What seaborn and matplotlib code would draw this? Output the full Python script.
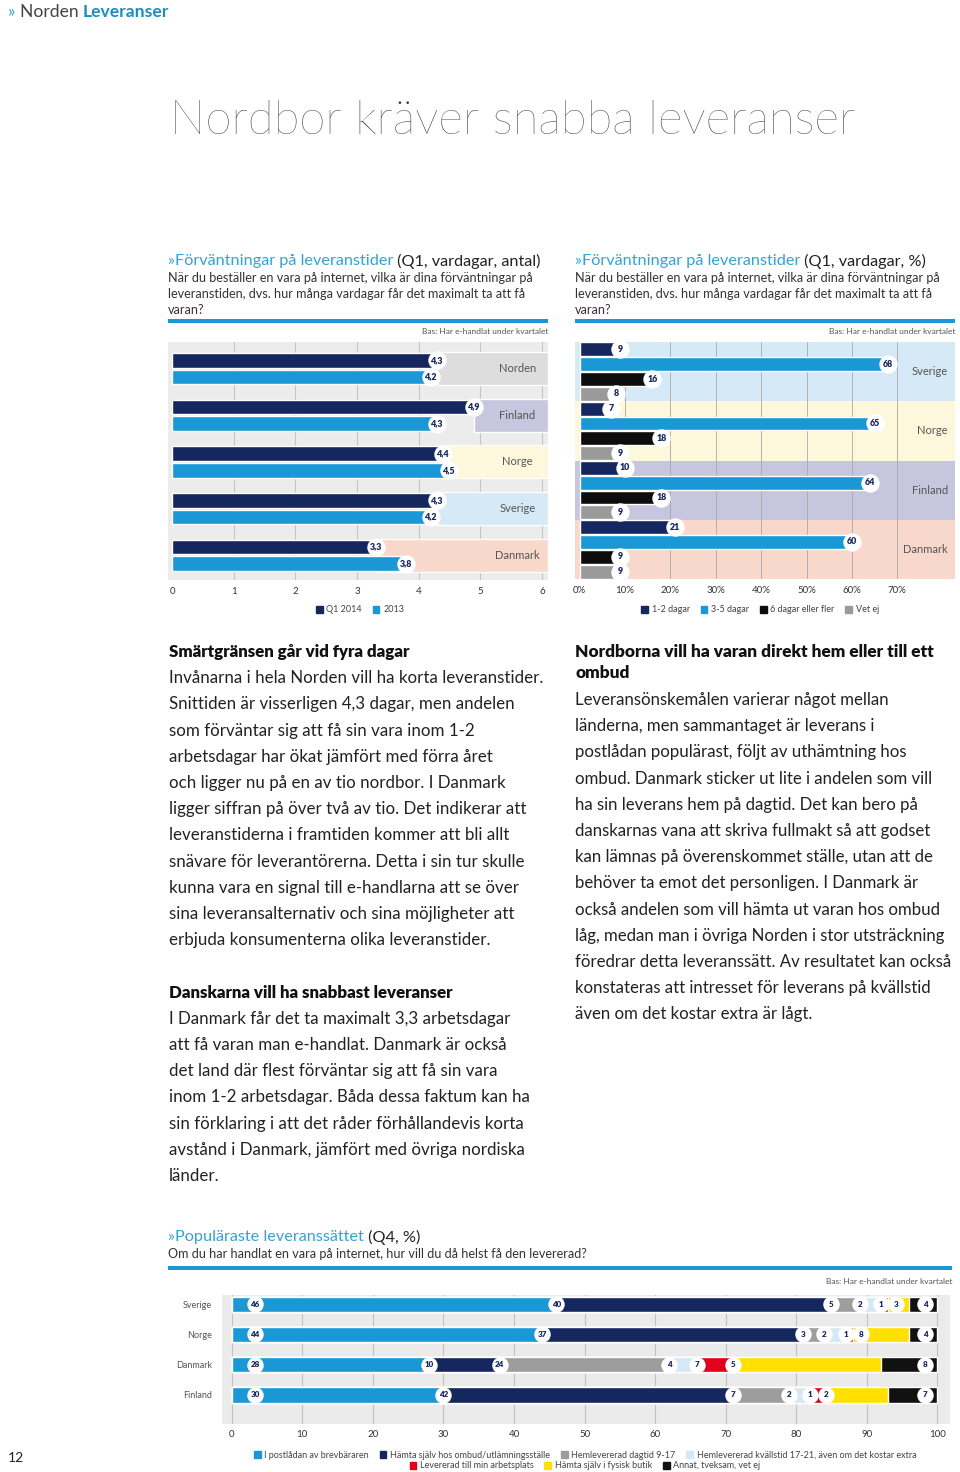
import numpy as np
import pandas as pd
import seaborn as sns
import matplotlib.pyplot as plt
from matplotlib.patches import Patch, Rectangle

# --- data -------------------------------------------------------------
lander1 = ['Norden', 'Finland', 'Norge', 'Sverige', 'Danmark']
q1_2014 = [4.3, 4.9, 4.4, 4.3, 3.3]
ar_2013 = [4.2, 4.3, 4.5, 4.2, 3.8]
serier1 = ['Q1 2014', '2013']

lander2 = ['Sverige', 'Norge', 'Finland', 'Danmark']
dagar_1_2 = [9, 7, 10, 21]
dagar_3_5 = [68, 65, 64, 60]
dagar_6 = [16, 18, 18, 9]
vet_ej = [8, 9, 9, 9]
serier2 = ['1-2 dagar', '3-5 dagar', '6 dagar eller fler', 'Vet ej']

lander3 = ['Sverige', 'Norge', 'Danmark', 'Finland']
postladan = [46, 44, 28, 30]
ombud = [39, 37, 10, 41]
dagtid = [4, 3, 24, 8]
kvallstid = [3, 3, 4, 3]
arbetsplats = [1, 1, 5, 2]
butik = [3, 8, 21, 9]
annat = [4, 4, 8, 7]
# numbers printed in the circles
etiketter3 = {
    'Sverige': [46, 40, 5, 2, 1, 3, 4],
    'Norge': [44, 37, 3, 2, 1, 8, 4],
    'Danmark': [28, 10, 24, 4, 7, 5, 8],
    'Finland': [30, 42, 7, 2, 1, 2, 7],
}
satt = ['I postlådan av brevbäraren', 'Hämta själv hos ombud/utlämningsställe',
        'Hemlevererad dagtid 9-17', 'Hemlevererad kvällstid 17-21, även om det kostar extra',
        'Levererad till min arbetsplats', 'Hämta själv i fysisk butik', 'Annat, tveksam, vet ej']

# --- style ------------------------------------------------------------
NAVY = '#15275e'
BLUE = '#1a98d5'
LBLUE = '#34a3d3'
HEAD = '#1b8dc0'
DARK = '#222222'
GREY = '#555555'
BLACK = '#0d0d0d'
band = {'Norden': '#dddddd', 'Finland': '#c6c6de', 'Norge': '#fdf7dc',
        'Sverige': '#d6e9f7', 'Danmark': '#f8d8ca'}
farger2 = [NAVY, BLUE, BLACK, '#9a9a9a']
farger3 = [BLUE, NAVY, '#9d9d9d', '#d4e8f5', '#e2001a', '#ffe000', '#111111']

sns.set_style('white')
plt.rcParams['font.family'] = ['Lato', 'DejaVu Sans']

W, H = 960, 1472
fig = plt.figure(figsize=(9.6, 14.72), dpi=100)
renderer = fig.canvas.get_renderer()


def fx(x):
    return x / W


def fy(y):
    return 1 - y / H


def box(l, t, r, b):
    return [l / W, 1 - b / H, (r - l) / W, (b - t) / H]


def rich(x, y, parts, size):
    for s, color, weight in parts:
        t = fig.text(fx(x), fy(y), s, color=color, fontsize=size, fontweight=weight,
                     ha='left', va='center')
        x += t.get_window_extent(renderer).width


def rule(l, r, y, h):
    fig.add_artist(Rectangle((fx(l), fy(y + h / 2)), (r - l) / W, h / H,
                             transform=fig.transFigure, color=BLUE, lw=0))


def bubble(ax, x, y, txt, size=6.4, s=175):
    ax.scatter([x], [y], s=s, color='white', linewidths=0, zorder=4, clip_on=False)
    ax.text(x, y, txt, ha='center', va='center', fontsize=size, fontweight='heavy',
            color=NAVY, zorder=5)


def legend(names, colors, x, y, ncol, size=6.5):
    handles = [Patch(color=c, label=n) for n, c in zip(names, colors)]
    return fig.legend(handles=handles, loc='center', bbox_to_anchor=(fx(x), fy(y)),
                      ncol=ncol, frameon=False, fontsize=size, handlelength=0.75,
                      handleheight=0.75, handletextpad=0.4, columnspacing=1.2,
                      labelcolor='#444444')


# --- page texts -------------------------------------------------------
rich(8, 12, [('» ', LBLUE, 'normal'), ('Norden ', '#444444', 'normal'),
             ('Leveranser', HEAD, 'bold')], 12.6)
fig.text(fx(170), fy(121), 'Nordbor kräver snabba leveranser', fontsize=34.1,
         fontweight='light', color='#333333', ha='left', va='center')

sub = ['När du beställer en vara på internet, vilka är dina förväntningar på',
       'leveranstiden, dvs. hur många vardagar får det maximalt ta att få',
       'varan?']
for x0, tail in [(168, ' (Q1, vardagar, antal)'), (575, ' (Q1, vardagar, %)')]:
    rich(x0, 261, [('»', LBLUE, 'normal'), ('Förväntningar på leveranstider', LBLUE, 'normal'),
                   (tail, DARK, 'normal')], 11.7)
    for i, line in enumerate(sub):
        fig.text(fx(x0), fy(278 + 16 * i), line, fontsize=9.1, color='#333333', va='center')
rule(168, 548, 321, 4)
rule(575, 955, 321, 4)
fig.text(fx(548), fy(332), 'Bas: Har e-handlat under kvartalet', fontsize=6, color=GREY,
         ha='right', va='center')
fig.text(fx(955), fy(332), 'Bas: Har e-handlat under kvartalet', fontsize=6, color=GREY,
         ha='right', va='center')

col1 = [('Smärtgränsen går vid fyra dagar', True),
        ('Invånarna i hela Norden vill ha korta leveranstider.', False),
        ('Snittiden är visserligen 4,3 dagar, men andelen', False),
        ('som förväntar sig att få sin vara inom 1-2', False),
        ('arbetsdagar har ökat jämfört med förra året', False),
        ('och ligger nu på en av tio nordbor. I Danmark', False),
        ('ligger siffran på över två av tio. Det indikerar att', False),
        ('leveranstiderna i framtiden kommer att bli allt', False),
        ('snävare för leverantörerna. Detta i sin tur skulle', False),
        ('kunna vara en signal till e-handlarna att se över', False),
        ('sina leveransalternativ och sina möjligheter att', False),
        ('erbjuda konsumenterna olika leveranstider.', False),
        ('', False),
        ('Danskarna vill ha snabbast leveranser', True),
        ('I Danmark får det ta maximalt 3,3 arbetsdagar', False),
        ('att få varan man e-handlat. Danmark är också', False),
        ('det land där flest förväntar sig att få sin vara', False),
        ('inom 1-2 arbetsdagar. Båda dessa faktum kan ha', False),
        ('sin förklaring i att det råder förhållandevis korta', False),
        ('avstånd i Danmark, jämfört med övriga nordiska', False),
        ('länder.', False)]
col2 = ['Leveransönskemålen varierar något mellan',
        'länderna, men sammantaget är leverans i',
        'postlådan populärast, följt av uthämtning hos',
        'ombud. Danmark sticker ut lite i andelen som vill',
        'ha sin leverans hem på dagtid. Det kan bero på',
        'danskarnas vana att skriva fullmakt så att godset',
        'kan lämnas på överenskommet ställe, utan att de',
        'behöver ta emot det personligen. I Danmark är',
        'också andelen som vill hämta ut varan hos ombud',
        'låg, medan man i övriga Norden i stor utsträckning',
        'föredrar detta leveranssätt. Av resultatet kan också',
        'konstateras att intresset för leverans på kvällstid',
        'även om det kostar extra är lågt.']
for i, (line, bold) in enumerate(col1):
    fig.text(fx(169), fy(652 + 26.2 * i), line, fontsize=12.2,
             fontweight='heavy' if bold else 'normal', color='#111111' if bold else DARK,
             va='center')
fig.text(fx(575), fy(652), 'Nordborna vill ha varan direkt hem eller till ett', fontsize=12.4,
         fontweight='heavy', color='#111111', va='center')
fig.text(fx(575), fy(673), 'ombud', fontsize=12.4, fontweight='heavy', color='#111111',
         va='center')
for i, line in enumerate(col2):
    fig.text(fx(575), fy(700 + 26.2 * i), line, fontsize=12.1, color=DARK, va='center')

rich(168, 1237, [('»', LBLUE, 'normal'), ('Populäraste leveranssättet', LBLUE, 'normal'),
                 (' (Q4, %)', DARK, 'normal')], 11.7)
fig.text(fx(168), fy(1254), 'Om du har handlat en vara på internet, hur vill du då helst få den levererad?',
         fontsize=9.1, color='#333333', va='center')
rule(168, 952, 1268, 4)
fig.text(fx(952), fy(1281), 'Bas: Har e-handlat under kvartalet', fontsize=6, color=GREY,
         ha='right', va='center')
fig.text(fx(8), fy(1458), '12', fontsize=10, color='#222222', va='center')

# --- chart 1: expected days ------------------------------------------
ax1 = fig.add_axes(box(168, 342, 548, 580))
ax1.set_facecolor('#ececec')
for t in range(1, 7):
    ax1.axvline(t, color='#c5c5c5', lw=0.8, zorder=0.2)
ax1.barh(range(len(lander1)), [6.1 - v for v in q1_2014], left=q1_2014, height=0.71,
         color=[band[l] for l in lander1], zorder=0.5)
df1 = pd.DataFrame({'land': lander1 * 2, 'serie': ['Q1 2014'] * 5 + ['2013'] * 5,
                    'dagar': q1_2014 + ar_2013})
n0 = len(ax1.containers)
sns.barplot(data=df1, x='dagar', y='land', hue='serie', hue_order=serier1, orient='h',
            palette=[NAVY, BLUE], width=0.71, gap=0.12, saturation=1, errorbar=None,
            legend=False, ax=ax1)
for cont in ax1.containers[n0:]:
    for bar in cont:
        v = bar.get_width()
        bubble(ax1, v, bar.get_y() + bar.get_height() / 2, f'{v:.1f}'.replace('.', ','))
for i, l in enumerate(lander1):
    ax1.text(5.6, i, l, ha='center', va='center', fontsize=8, color=GREY)
ax1.set_xlim(-0.07, 6.1)
ax1.set_ylim(4.53, -0.57)
ax1.set_xticks(range(7))
ax1.set_yticks([])
ax1.set_xlabel('')
ax1.set_ylabel('')
ax1.tick_params(axis='x', length=0, pad=5, labelsize=7, labelcolor='#333333')
sns.despine(ax=ax1, left=True, bottom=True)
legend(serier1, [NAVY, BLUE], 360, 610, 2)

# --- chart 2: expected days, share -----------------------------------
ax2 = fig.add_axes(box(575, 342, 955, 579))
for i, l in enumerate(lander2):
    ax2.axhspan(i - 0.5, i + 0.5, color=band[l], lw=0, zorder=0.1)
for t in range(10, 80, 10):
    ax2.axvline(t, color='#a9a9a9', lw=0.6, zorder=0.3)
df2 = pd.DataFrame({'land': lander2 * 4,
                    'serie': [s for s in serier2 for _ in lander2],
                    'andel': dagar_1_2 + dagar_3_5 + dagar_6 + vet_ej})
n0 = len(ax2.containers)
sns.barplot(data=df2, x='andel', y='land', hue='serie', hue_order=serier2, orient='h',
            palette=farger2, width=1.0, gap=0.06, saturation=1, errorbar=None,
            legend=False, ax=ax2)
for cont in ax2.containers[n0:]:
    for bar in cont:
        v = bar.get_width()
        bubble(ax2, v, bar.get_y() + bar.get_height() / 2, f'{v:.0f}')
for i, l in enumerate(lander2):
    ax2.text(81.1, i, l, ha='right', va='center', fontsize=8, color=GREY)
ax2.set_xlim(-1, 82.7)
ax2.set_ylim(3.5, -0.5)
ax2.set_xticks(range(0, 80, 10))
ax2.set_xticklabels([f'{t}%' for t in range(0, 80, 10)])
ax2.set_yticks([])
ax2.set_xlabel('')
ax2.set_ylabel('')
ax2.tick_params(axis='x', length=0, pad=5, labelsize=7, labelcolor='#333333')
sns.despine(ax=ax2, left=True, bottom=True)
legend(serier2, farger2, 760, 610, 4)

# --- chart 3: preferred delivery (stacked) ---------------------------
ax3 = fig.add_axes(box(222, 1295, 950, 1424))
ax3.set_facecolor('#ebebeb')
for t in range(0, 101, 10):
    ax3.axvline(t, color='#c2c2c2', lw=0.8, zorder=0.2)
delar = np.array([postladan, ombud, dagtid, kvallstid, arbetsplats, butik, annat])
kum = delar.cumsum(axis=0)
for k in range(len(satt) - 1, -1, -1):
    sns.barplot(x=kum[k], y=lander3, color=farger3[k], orient='h', width=0.5,
                saturation=1, errorbar=None, ax=ax3)
for j, l in enumerate(lander3):
    starts = np.concatenate([[0], kum[:-1, j]])
    pos = []
    for k, s in enumerate(starts):
        p = s + 3.3 if k == 0 else (kum[-1, j] - 1.7 if k == len(starts) - 1 else s)
        if pos:
            p = max(p, pos[-1] + 2.2)
        pos.append(p)
        bubble(ax3, p, j, str(etiketter3[l][k]), size=5.8, s=140)
ax3.set_xlim(-1.38, 101.8)
ax3.set_ylim(3.96, -0.30)
ax3.set_xticks(range(0, 101, 10))
ax3.set_xlabel('')
ax3.set_ylabel('')
ax3.tick_params(axis='x', length=0, pad=4, labelsize=7, labelcolor='#333333')
ax3.tick_params(axis='y', length=0, pad=7, labelsize=6.5, labelcolor=GREY)
sns.despine(ax=ax3, left=True, bottom=True)
legend(satt[:4], farger3[:4], 585, 1455, 4)
legend(satt[4:], farger3[4:], 585, 1466, 3)

fig.savefig('out.png', dpi=100)
